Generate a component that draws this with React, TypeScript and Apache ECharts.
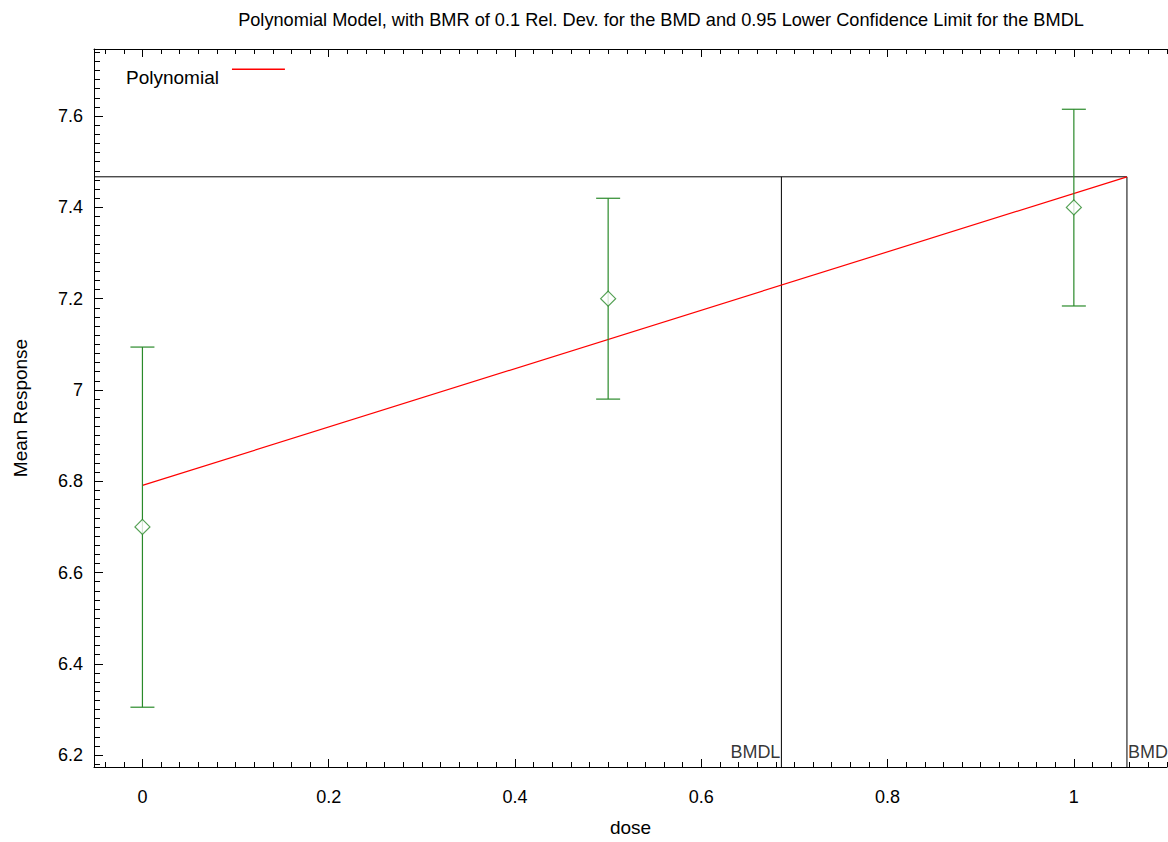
import React, { useEffect, useRef } from "react";
import * as echarts from "echarts";

const doses = [0, 0.5, 1];
const means = [6.7, 7.2, 7.4];
const upperCI = [7.094, 7.42, 7.615];
const lowerCI = [6.305, 6.98, 7.184];

const fitDose = [0, 1.057];
const fitMean = [6.791, 7.467];

const bmd = 1.057;
const bmdl = 0.686;
const bmdResponse = 7.467;

const xMin = -0.052;
const xMax = 1.1;
const yMin = 6.174;
const yMax = 7.747;

const xMajorTicks = [0, 0.2, 0.4, 0.6, 0.8, 1];
const yMajorTicks = [6.2, 6.4, 6.6, 6.8, 7, 7.2, 7.4, 7.6];

const titleText =
  "Polynomial Model, with BMR of 0.1 Rel. Dev. for the BMD and 0.95 Lower Confidence Limit for the BMDL";

const FONT = "Liberation Sans, Arial, Helvetica, sans-serif";
const GREEN = "#2a8a2a";

function minorValues(lo: number, hi: number, step: number): number[] {
  const out: number[] = [];
  const start = Math.ceil(lo / step - 1e-9);
  const end = Math.floor(hi / step + 1e-9);
  for (let k = start; k <= end; k++) {
    if (k % 10 !== 0) out.push(Math.round(k * step * 1000) / 1000);
  }
  return out;
}

export default function App() {
  const ref = useRef<HTMLDivElement>(null);
  useEffect(() => {
    if (!ref.current) return;
    const chart = echarts.init(ref.current, undefined, { renderer: "svg" });
    const xMinor = minorValues(xMin, xMax, 0.02);
    const yMinor = minorValues(yMin, yMax, 0.02);
    const lineCol = { color: "#000", width: 1 };
    const xBase = {
      type: "value",
      min: xMin,
      max: xMax,
      splitLine: { show: false },
      axisLine: { show: true, onZero: false, lineStyle: lineCol },
    };
    const yBase = {
      type: "value",
      min: yMin,
      max: yMax,
      position: "left",
      splitLine: { show: false },
      axisLine: { show: true, onZero: false, lineStyle: lineCol },
    };
    const hiddenLine = { show: false, onZero: false };
    chart.setOption({
      animation: false,
      backgroundColor: "#fff",
      textStyle: { fontFamily: FONT },
      title: {
        text: titleText,
        left: 656,
        textAlign: "center",
        top: 6,
        textStyle: { fontSize: 18.2, fontWeight: "normal", color: "#000", fontFamily: FONT },
      },
      legend: {
        data: ["Polynomial"],
        left: 121,
        top: 63,
        align: "right",
        itemWidth: 53,
        itemHeight: 18,
        itemGap: 0,
        icon: "path://M0,0L53,0L53,1.4L0,1.4ZM0,18L0.01,18L0.01,18.01L0,18.01Z",
        textStyle: { fontSize: 19, color: "#000", fontFamily: FONT, padding: [0, 8, 0, 0] },
      },
      grid: { left: 94, top: 49, width: 1073, height: 718 },
      xAxis: [
        {
          ...xBase,
          position: "bottom",
          name: "dose",
          nameLocation: "middle",
          nameGap: 51,
          nameTextStyle: { fontSize: 19, color: "#000", fontFamily: FONT },
          axisTick: { show: true, inside: true, length: 8, customValues: xMajorTicks, lineStyle: { color: "#000" } },
          axisLabel: {
            show: true,
            margin: 21,
            fontSize: 18,
            color: "#000",
            fontFamily: FONT,
            customValues: xMajorTicks,
          },
        },
        {
          ...xBase,
          position: "bottom",
          axisLine: hiddenLine,
          axisTick: { show: true, inside: true, length: 5, customValues: xMinor, lineStyle: { color: "#000" } },
          axisLabel: { show: false },
        },
        {
          ...xBase,
          position: "top",
          axisTick: { show: true, inside: true, length: 8, customValues: xMajorTicks, lineStyle: { color: "#000" } },
          axisLabel: { show: false },
        },
        {
          ...xBase,
          position: "top",
          axisLine: hiddenLine,
          axisTick: { show: true, inside: true, length: 5, customValues: xMinor, lineStyle: { color: "#000" } },
          axisLabel: { show: false },
        },
      ],
      yAxis: [
        {
          ...yBase,
          name: "Mean Response",
          nameLocation: "middle",
          nameGap: 64,
          nameTextStyle: { fontSize: 19, color: "#000", fontFamily: FONT },
          axisTick: { show: true, inside: true, length: 9, customValues: yMajorTicks, lineStyle: { color: "#000" } },
          axisLabel: {
            show: true,
            margin: 11,
            fontSize: 18,
            color: "#000",
            fontFamily: FONT,
            customValues: yMajorTicks,
          },
        },
        {
          ...yBase,
          axisLine: hiddenLine,
          axisTick: { show: true, inside: true, length: 6, customValues: yMinor, lineStyle: { color: "#000" } },
          axisLabel: { show: false },
        },
      ],
      series: [
        {
          name: "BMD lines",
          type: "line",
          data: [
            [xMin, bmdResponse],
            [bmd, bmdResponse],
            [bmd, yMin],
          ],
          symbol: "none",
          lineStyle: { color: "#000", width: 1 },
          silent: true,
          z: 1,
        },
        {
          name: "BMDL line",
          type: "line",
          data: [
            [bmdl, bmdResponse],
            [bmdl, yMin],
          ],
          symbol: "none",
          lineStyle: { color: "#000", width: 1 },
          silent: true,
          z: 1,
        },
        {
          name: "BMD labels",
          type: "scatter",
          data: [
            { value: [bmdl, yMin], label: { formatter: "BMDL", align: "right", offset: [-1, -6] } },
            { value: [bmd, yMin], label: { formatter: "BMD", align: "left", offset: [1, -6] } },
          ],
          symbolSize: 0,
          silent: true,
          label: {
            show: true,
            position: [0, 0],
            verticalAlign: "bottom",
            fontSize: 18,
            color: "#000",
            fontFamily: FONT,
          },
          z: 3,
        },
        {
          name: "Polynomial",
          type: "line",
          data: fitDose.map((d, i) => [d, fitMean[i]]),
          symbol: "none",
          lineStyle: { color: "#ff0000", width: 1.2 },
          itemStyle: { color: "#ff0000" },
          z: 4,
        },
        {
          name: "Error bars",
          type: "custom",
          data: doses.map((d, i) => [d, lowerCI[i], upperCI[i]]),
          renderItem: (params: any, api: any) => {
            const x = api.value(0);
            const lo = api.coord([x, api.value(1)]);
            const hi = api.coord([x, api.value(2)]);
            const hw = 12;
            const style = { stroke: GREEN, lineWidth: 1.2 };
            return {
              type: "group",
              children: [
                { type: "line", shape: { x1: lo[0], y1: lo[1], x2: hi[0], y2: hi[1] }, style },
                { type: "line", shape: { x1: lo[0] - hw, y1: lo[1], x2: lo[0] + hw, y2: lo[1] }, style },
                { type: "line", shape: { x1: hi[0] - hw, y1: hi[1], x2: hi[0] + hw, y2: hi[1] }, style },
              ],
            };
          },
          z: 5,
        },
        {
          name: "Mean",
          type: "scatter",
          data: doses.map((d, i) => [d, means[i]]),
          symbol: "diamond",
          symbolSize: [15, 15],
          itemStyle: { color: "#fff", borderColor: GREEN, borderWidth: 1.2 },
          z: 6,
        },
      ],
    });
    return () => chart.dispose();
  }, []);
  return (
    <div
      ref={ref}
      style={{ position: "absolute", left: 0, top: 0, width: 1168, height: 842 }}
    />
  );
}
